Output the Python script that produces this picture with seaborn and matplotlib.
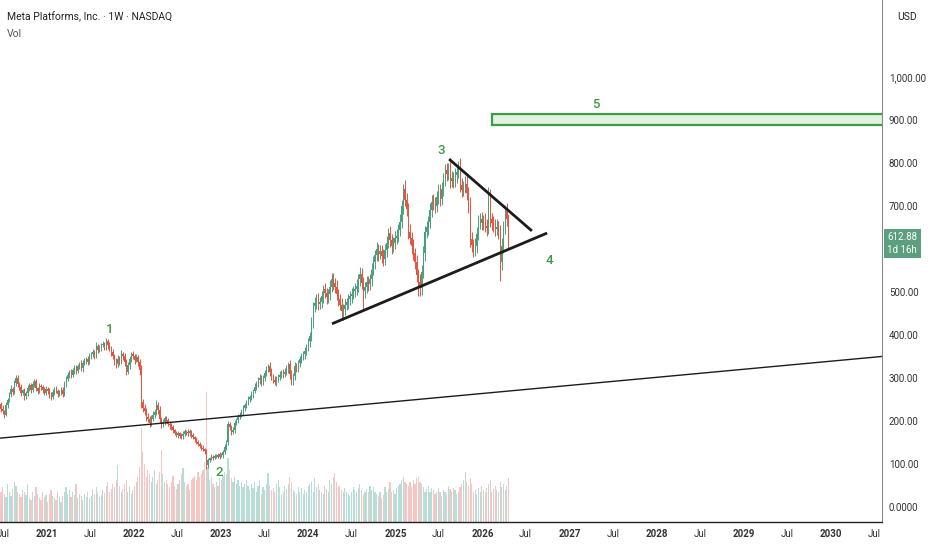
import numpy as np
import pandas as pd
import matplotlib
matplotlib.use('Agg')
import matplotlib.pyplot as plt
import matplotlib.dates as mdates
import matplotlib.transforms as mtransforms
from matplotlib.patches import Rectangle
import seaborn as sns

# weekly closes (first week starts mid-June 2020)
start_week = '2020-06-15'
first_open = 245
closes = [
    240, 228, 222, 215, 236, 248, 262, 275, 268, 288,
    300, 286, 278, 266, 271, 257, 264, 276, 283, 272,
    285, 292, 276, 270, 281, 278, 273, 266, 275, 270,
    262, 255, 268, 275, 270, 262, 266, 272, 263, 285,
    298, 306, 313, 307, 318, 324, 316, 327, 333, 322,
    335, 339, 344, 337, 350, 355, 360, 352, 374, 366,
    370, 376, 378, 372, 385, 376, 370, 360, 350, 340,
    332, 345, 340, 355, 350, 338, 315, 330, 345, 355,
    350, 342, 348, 336, 318, 243, 230, 222, 210, 205,
    196, 205, 214, 220, 238, 226, 205, 192, 198, 206,
    203, 194, 190, 185, 178, 172, 168, 171, 166, 164,
    170, 176, 175, 171, 176, 168, 162, 158, 152, 147,
    142, 138, 134, 129, 97, 110, 113, 117, 115, 118,
    120, 117, 122, 121, 128, 140, 150, 192, 186, 175,
    180, 196, 203, 210, 214, 222, 230, 236, 243, 250,
    255, 262, 270, 280, 286, 295, 301, 290, 300, 312,
    320, 327, 315, 304, 296, 290, 298, 303, 308, 312,
    310, 315, 322, 332, 310, 292, 305, 327, 322, 335,
    343, 350, 356, 362, 372, 385, 397, 430, 467, 475,
    483, 472, 477, 490, 507, 498, 488, 495, 512, 530,
    520, 512, 495, 483, 470, 455, 460, 470, 476, 483,
    490, 495, 502, 508, 514, 530, 542, 520, 502, 512,
    523, 518, 530, 552, 570, 585, 600, 589, 595, 583,
    577, 598, 615, 636, 620, 607, 615, 625, 631, 645,
    663, 700, 740, 715, 694, 640, 625, 607, 590, 570,
    540, 523, 510, 547, 590, 640, 650, 663, 690, 710,
    705, 701, 720, 734, 717, 740, 760, 783, 775, 794,
    759, 765, 758, 771, 780, 792, 748, 738, 745, 752,
    730, 701, 624, 610, 598, 607, 635, 663, 670, 660,
    665, 654, 648, 722, 670, 660, 655, 647, 652, 640,
    570, 607, 650, 689, 670, 612.88,
]
# upper / lower wick lengths beyond the candle body
wick_hi = [
    6, 5, 8, 4, 7, 5, 6, 9, 5, 7,
    8, 6, 5, 7, 4, 6, 5, 8, 6, 5,
    7, 5, 6, 4, 8, 5, 6, 5, 7, 4,
    6, 5, 7, 5, 6, 4, 5, 7, 6, 8,
    6, 7, 5, 8, 6, 5, 7, 6, 5, 8,
    6, 7, 5, 6, 8, 5, 7, 6, 9, 5,
    7, 6, 8, 5, 9, 6, 7, 5, 8, 6,
    7, 8, 6, 9, 5, 7, 6, 8, 7, 6,
    8, 6, 7, 5, 9, 12, 8, 10, 7, 9,
    6, 8, 9, 7, 10, 6, 8, 5, 7, 6,
    6, 5, 7, 5, 6, 4, 5, 6, 4, 5,
    6, 5, 4, 6, 5, 4, 5, 4, 5, 4,
    5, 4, 5, 4, 6, 5, 4, 6, 4, 5,
    4, 5, 6, 4, 5, 7, 6, 8, 6, 5,
    7, 6, 5, 7, 6, 5, 7, 6, 5, 8,
    6, 7, 5, 8, 6, 7, 9, 6, 8, 7,
    8, 6, 9, 7, 6, 8, 7, 6, 9, 7,
    8, 7, 9, 6, 10, 8, 7, 9, 8, 7,
    8, 9, 7, 10, 8, 9, 11, 12, 10, 14,
    12, 15, 11, 13, 10, 14, 12, 11, 15, 13,
    14, 12, 15, 11, 13, 16, 12, 14, 11, 13,
    12, 14, 11, 13, 15, 12, 16, 13, 14, 12,
    15, 13, 12, 16, 14, 13, 17, 12, 15, 14,
    16, 13, 15, 12, 17, 14, 13, 16, 15, 14,
    18, 15, 10, 20, 16, 14, 18, 15, 17, 13,
    16, 14, 18, 15, 17, 13, 16, 14, 18, 15,
    17, 15, 14, 18, 16, 15, 17, 14, 16, 6,
    18, 16, 14, 17, 15, 13, 20, 16, 14, 18,
    17, 15, 20, 16, 14, 18, 15, 17, 14, 16,
    15, 18, 16, 23, 17, 14, 16, 15, 17, 14,
    16, 18, 15, 14, 17, 12,
]
wick_lo = [
    5, 7, 6, 8, 4, 6, 5, 7, 8, 5,
    6, 8, 5, 7, 6, 8, 5, 6, 7, 8,
    5, 7, 6, 8, 5, 6, 7, 5, 6, 7,
    8, 6, 5, 7, 6, 7, 5, 6, 8, 5,
    6, 5, 7, 6, 5, 8, 6, 5, 7, 6,
    7, 5, 6, 8, 5, 7, 6, 8, 5, 7,
    6, 8, 5, 7, 6, 9, 7, 8, 6, 9,
    8, 6, 9, 7, 8, 10, 7, 6, 9, 8,
    7, 9, 6, 8, 10, 12, 10, 8, 9, 8,
    9, 7, 6, 8, 7, 10, 9, 8, 6, 7,
    7, 6, 8, 6, 7, 5, 6, 7, 5, 6,
    5, 6, 7, 5, 6, 7, 5, 6, 5, 6,
    5, 6, 5, 6, 9, 7, 5, 4, 5, 4,
    5, 4, 5, 4, 6, 5, 7, 6, 8, 7,
    6, 8, 5, 7, 6, 5, 8, 6, 7, 5,
    7, 6, 8, 5, 7, 6, 8, 9, 7, 6,
    8, 7, 10, 9, 8, 7, 9, 8, 7, 8,
    9, 8, 7, 10, 12, 9, 8, 10, 9, 8,
    10, 9, 8, 11, 9, 10, 12, 10, 14, 13,
    15, 13, 12, 14, 16, 12, 15, 13, 14, 12,
    16, 14, 13, 15, 12, 18, 20, 14, 13, 15,
    13, 15, 12, 14, 16, 13, 15, 14, 42, 16,
    14, 16, 13, 15, 12, 17, 14, 16, 13, 15,
    17, 14, 16, 13, 15, 18, 14, 16, 13, 15,
    16, 14, 18, 15, 17, 16, 14, 18, 15, 17,
    18, 33, 20, 16, 15, 18, 14, 17, 15, 16,
    15, 17, 14, 16, 18, 15, 17, 14, 16, 15,
    17, 15, 16, 14, 18, 16, 15, 17, 14, 16,
    15, 17, 20, 18, 16, 15, 17, 14, 16, 15,
    16, 15, 17, 14, 18, 16, 15, 17, 14, 16,
    45, 18, 16, 15, 17, 14,
]
# weekly volume (millions)
volume = [
    42, 30, 35, 28, 25, 38, 30, 26, 33, 40,
    36, 30, 28, 25, 32, 30, 27, 38, 24, 22,
    30, 26, 35, 28, 24, 22, 30, 25, 27, 20,
    28, 32, 26, 24, 22, 30, 25, 20, 26, 30,
    35, 28, 32, 25, 30, 27, 38, 24, 28, 26,
    22, 28, 25, 30, 24, 26, 33, 28, 35, 30,
    25, 27, 32, 29, 36, 40, 30, 33, 38, 35,
    42, 57, 36, 30, 33, 38, 42, 30, 35, 28,
    32, 36, 40, 45, 55, 94, 70, 58, 45, 52,
    48, 40, 45, 52, 38, 42, 50, 72, 48, 40,
    42, 38, 35, 40, 46, 36, 33, 38, 42, 48,
    54, 40, 36, 38, 32, 42, 44, 46, 42, 50,
    45, 48, 52, 60, 130, 55, 42, 45, 38, 35,
    40, 36, 44, 42, 46, 50, 48, 64, 52, 44,
    40, 45, 38, 42, 36, 40, 35, 38, 42, 36,
    32, 38, 34, 40, 30, 36, 42, 28, 35, 32,
    38, 49, 36, 32, 34, 30, 38, 42, 35, 28,
    30, 36, 33, 38, 45, 40, 32, 30, 28, 35,
    30, 34, 28, 32, 30, 36, 38, 40, 30, 44,
    35, 38, 32, 30, 28, 36, 33, 30, 42, 38,
    45, 49, 40, 36, 35, 32, 30, 34, 30, 28,
    26, 30, 35, 32, 30, 34, 38, 32, 28, 30,
    33, 30, 36, 32, 35, 30, 28, 26, 30, 24,
    27, 35, 30, 33, 40, 30, 32, 28, 34, 36,
    38, 42, 45, 40, 38, 36, 40, 35, 42, 38,
    44, 45, 40, 38, 35, 30, 33, 36, 30, 34,
    32, 28, 30, 34, 30, 26, 32, 30, 28, 36,
    33, 30, 34, 32, 28, 30, 35, 38, 42, 50,
    40, 36, 44, 38, 30, 32, 28, 34, 30, 36,
    32, 30, 34, 38, 42, 30, 33, 36, 32, 30,
    40, 35, 38, 32, 36, 44,
]

# drawn lines: (start date, start price, end date, end price)
long_line = ['2020-06-18', 160, '2030-08-03', 350]
triangle_low = ['2024-04-10', 426, '2026-09-29', 637]
triangle_high = ['2025-08-14', 809, '2026-07-27', 642]
# target zone 5
zone_start = '2026-02-10'
zone_low, zone_high = 888, 914
wave_labels = ['1', '2', '3', '4', '5']
wave_dates = ['2021-09-22', '2022-12-23', '2025-07-11', '2026-10-07', '2027-04-22']
wave_prices = [412, 81, 828, 574, 935]

price_ticks = [0, 100, 200, 300, 400, 500, 700, 800, 900, 1000]
last_price = 612.88
countdown = '1d 16h'
x_left, x_right = '2020-06-18', '2030-08-03'

up_color = '#4b9e7c'
down_color = '#e5533d'
vol_up = '#b7ded6'
vol_down = '#f6c6c5'
wave_color = '#3f9b45'

sns.set_theme(style='white')
plt.rcParams['font.family'] = ['Roboto', 'DejaVu Sans']

df = pd.DataFrame({'date': pd.date_range(start_week, periods=len(closes), freq='7D'),
                   'close': closes, 'wick_hi': wick_hi, 'wick_lo': wick_lo, 'volume': volume})
df['open'] = df['close'].shift(1).fillna(first_open)
df['high'] = df[['open', 'close']].max(axis=1) + df['wick_hi']
df['low'] = df[['open', 'close']].min(axis=1) - df['wick_lo']
df['dir'] = np.where(df['close'] >= df['open'], 'up', 'down')
df['dnum'] = mdates.date2num(df['date'])

fig = plt.figure(figsize=(9.32, 5.5), dpi=100)
ax = fig.add_axes([0, 28 / 550, 882 / 932, 522 / 550])
ax_vol = ax.twinx()
ax.set_zorder(ax_vol.get_zorder() + 1)
ax.patch.set_visible(False)

# volume histogram (one 7-day bin per week)
bin_lo = df['dnum'].iloc[0] - 3.5
bin_hi = df['dnum'].iloc[-1] + 3.5
sns.histplot(data=df, x='dnum', weights='volume', hue='dir', binwidth=7, binrange=(bin_lo, bin_hi),
             shrink=0.7, palette={'up': vol_up, 'down': vol_down}, alpha=1, linewidth=0,
             legend=False, ax=ax_vol)
ax_vol.set_ylim(0, 522)
ax_vol.set_yticks([])
ax_vol.set_ylabel('')
for s in ax_vol.spines.values():
    s.set_visible(False)

# candles
colors = np.where(df['dir'] == 'up', up_color, down_color)
ax.vlines(df['dnum'], df['low'], df['high'], colors=colors, lw=0.7)
body = (df['close'] - df['open']).abs().clip(lower=2)
ax.bar(df['dnum'], body, bottom=df[['open', 'close']].min(axis=1), width=4.5, color=colors, linewidth=0)

# trend lines
for line, lw in [(long_line, 1.0), (triangle_low, 2.0), (triangle_high, 2.0)]:
    ax.plot(mdates.datestr2num([line[0], line[2]]), [line[1], line[3]], color='#1c1c1c', lw=lw,
            solid_capstyle='butt')

# target zone
z0 = mdates.datestr2num(zone_start)
z1 = mdates.datestr2num(x_right)
ax.add_patch(Rectangle((z0, zone_low), z1 - z0 + 30, zone_high - zone_low, fc='#e3f1e0',
                       ec=wave_color, lw=1.6))

for lab, d, p in zip(wave_labels, wave_dates, wave_prices):
    ax.text(mdates.datestr2num(d), p, lab, color=wave_color, fontsize=9.5, fontweight='medium',
            ha='center', va='center')

# price axis on the right
ax.yaxis.tick_right()
ax.set_yticks(price_ticks)
ax.set_yticklabels(['0.0000' if v == 0 else f'{v:,.2f}' for v in price_ticks])
ax.tick_params(axis='y', length=0, pad=5, labelsize=7, labelcolor='#333333')

# time axis
ticks = []
labels = []
for yr in range(2020, 2031):
    for mo in (1, 7):
        ticks.append(mdates.date2num(pd.Timestamp(yr, mo, 1)))
        labels.append(str(yr) if mo == 1 else 'Jul')
ax.set_xticks(ticks)
ax.set_xticklabels(labels)
for t, lab in zip(ax.get_xticklabels(), labels):
    if lab != 'Jul':
        t.set_fontweight('bold')
ax.tick_params(axis='x', length=0, pad=5, labelsize=7, labelcolor='#333333')
ax.set_xlabel('')
ax_vol.set_xlabel('')
ax_vol.tick_params(axis='x', length=0, labelbottom=False)

# limits last, so the tick positions do not widen the view
ax.set_xlim(mdates.datestr2num(x_left), mdates.datestr2num(x_right))
ax_vol.set_xlim(ax.get_xlim())
ax.set_ylim(-35, 1179)

ax.grid(False)
ax_vol.grid(False)
ax.spines['top'].set_visible(False)
ax.spines['left'].set_visible(False)
ax.spines['right'].set_color('#8a8a8a')
ax.spines['right'].set_linewidth(0.8)
ax.spines['bottom'].set_color('#222222')
ax.spines['bottom'].set_linewidth(1.0)

# last price tag
trans = mtransforms.blended_transform_factory(ax.transAxes, ax.transData)
ax.text(1.006, last_price, f'{last_price:.2f}\n{countdown}', transform=trans, ha='left', va='center',
        color='white', fontsize=7, linespacing=1.35, clip_on=False,
        bbox=dict(boxstyle='square,pad=0.35', fc='#5c9f7e', ec='none'))

fig.text(897 / 932, 1 - 17 / 550, 'USD', fontsize=7.5, color='#222222', ha='left', va='center')
fig.text(7 / 932, 1 - 17 / 550, 'Meta Platforms, Inc. · 1W · NASDAQ', fontsize=7.5,
         color='#222222', ha='left', va='center')
fig.text(7 / 932, 1 - 34 / 550, 'Vol', fontsize=7.5, color='#555555', ha='left', va='center')

fig.savefig('out.png', dpi=100)
